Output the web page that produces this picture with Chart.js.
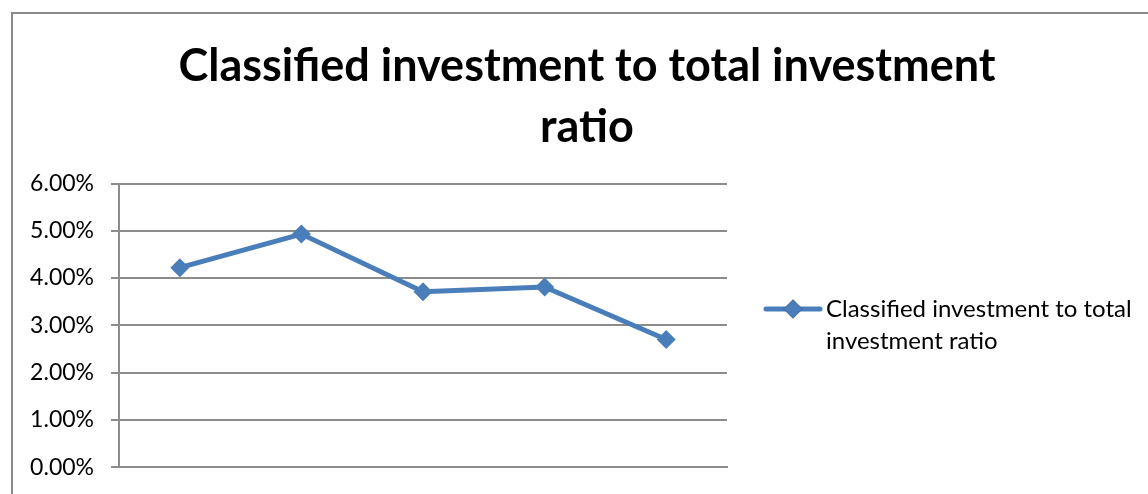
<!DOCTYPE html>
<html>
<head>
<meta charset="utf-8">
<script src="https://cdn.jsdelivr.net/npm/chart.js@4"></script>
<style>
    html, body { margin: 0; padding: 0; background: #fff; overflow: hidden; }
    #frame {
        position: absolute; left: 11px; top: 12px;
        width: 1200px; height: 600px;
        border: 2px solid #8a8a8a;
    }
    #wrap { position: absolute; left: 0; top: 0; width: 1174px; height: 498px; }
</style>
</head>
<body>
<div id="frame"></div>
<div id="wrap"><canvas id="ratioChart"></canvas></div>
<script>
// Ratio per period
var periods = ['1', '2', '3', '4', '5'];
var ratioValues = [0.0422, 0.0493, 0.0371, 0.0381, 0.0270];
var yTicks = [0, 0.01, 0.02, 0.03, 0.04, 0.05, 0.06];
var seriesName = 'Classified investment to total investment ratio';

document.addEventListener('DOMContentLoaded', function() {
    var FONT = 'Lato, "Open Sans", sans-serif';
    var lineColor = '#4a7ebb';
    var gridColor = '#8c8c8c';

    // Legend drawn to the right of the plot, text wrapped onto two lines
    var sideLegend = {
        id: 'sideLegend',
        afterDraw: function(chart) {
            var ctx = chart.ctx;
            var ds = chart.data.datasets[0];
            var x = 766, y = 309, lineGap = 32, maxW = 340;
            ctx.save();
            ctx.strokeStyle = ds.borderColor;
            ctx.lineWidth = ds.borderWidth;
            ctx.lineCap = 'round';
            ctx.beginPath();
            ctx.moveTo(x, y);
            ctx.lineTo(x + 54, y);
            ctx.stroke();
            Chart.helpers.drawPoint(ctx, { pointStyle: 'rectRot', radius: ds.pointRadius, borderWidth: 0 }, x + 27, y);
            ctx.fillStyle = ds.backgroundColor;
            ctx.fill();

            ctx.font = '24px ' + FONT;
            ctx.fillStyle = '#000';
            ctx.textBaseline = 'middle';
            var words = ds.label.split(' ');
            var lines = [], cur = '';
            words.forEach(function(w) {
                var test = cur ? cur + ' ' + w : w;
                if (ctx.measureText(test).width > maxW && cur) {
                    lines.push(cur);
                    cur = w;
                } else {
                    cur = test;
                }
            });
            lines.push(cur);
            lines.forEach(function(l, i) {
                ctx.fillText(l, x + 60, y + i * lineGap);
            });
            ctx.restore();
        }
    };

    var ctx = document.getElementById('ratioChart').getContext('2d');
    var ratioChart = new Chart(ctx, {
        type: 'line',
        data: {
            labels: periods,
            datasets: [{
                label: seriesName,
                data: ratioValues,
                borderColor: lineColor,
                backgroundColor: lineColor,
                borderWidth: 5,
                pointStyle: 'rectRot',
                pointRadius: 9.5,
                pointHoverRadius: 9.5,
                pointBorderWidth: 0,
                tension: 0
            }]
        },
        options: {
            responsive: true,
            maintainAspectRatio: false,
            animation: false,
            layout: {
                padding: { left: 0, right: 0, top: 0, bottom: 23 }
            },
            plugins: {
                legend: { display: false },
                tooltip: { enabled: false },
                title: {
                    display: true,
                    text: ['Classified investment to total investment', 'ratio'],
                    color: '#000',
                    font: { family: FONT, size: 45, weight: 'bold', lineHeight: 1.35 },
                    padding: { top: 36, bottom: 26 }
                }
            },
            scales: {
                x: {
                    offset: true,
                    ticks: { display: false },
                    grid: { display: false, drawTicks: false },
                    border: { display: true, color: gridColor, width: 2 },
                    afterFit: function(scale) { scale.height = 0; }
                },
                y: {
                    min: 0,
                    max: 0.06,
                    afterBuildTicks: function(scale) {
                        scale.ticks = yTicks.map(function(v) { return { value: v }; });
                    },
                    afterFit: function(scale) { scale.width = 119; },
                    ticks: {
                        color: '#000',
                        padding: 17,
                        font: { family: FONT, size: 23 },
                        callback: function(value) {
                            return (value * 100).toFixed(2) + '%';
                        }
                    },
                    grid: { color: gridColor, lineWidth: 2, tickLength: 8 },
                    border: { color: gridColor, width: 2 }
                },
                // empty axis on the right reserves room for the legend
                legendSpace: {
                    position: 'right',
                    min: 0,
                    max: 1,
                    ticks: { display: false },
                    grid: { display: false, drawTicks: false },
                    border: { display: false },
                    afterFit: function(scale) { scale.width = 447; }
                }
            }
        },
        plugins: [sideLegend]
    });
});
</script>
</body>
</html>
